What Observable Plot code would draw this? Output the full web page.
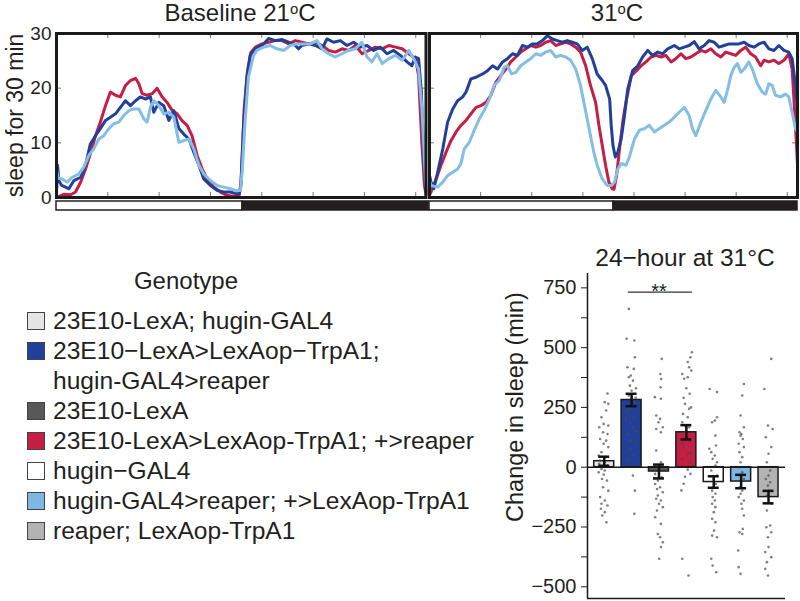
<!DOCTYPE html>
<html><head><meta charset="utf-8">
<script src="https://cdn.jsdelivr.net/npm/d3@7"></script>
<script src="https://cdn.jsdelivr.net/npm/@observablehq/plot@0.6"></script>
<style>
body{margin:0;background:#fff;font-family:"Liberation Sans",Arial,sans-serif;color:#231f20;}
#page{position:relative;width:800px;height:601px;overflow:hidden;background:#fff;}
.abs{position:absolute;}
.title{font-size:24px;line-height:24px;text-align:center;white-space:nowrap;}
.sup{font-size:0.62em;position:relative;top:-0.45em;}
#legend{position:absolute;left:0;top:306px;width:490px;}
.item{position:relative;padding-left:53px;width:437px;font-size:24.6px;line-height:30px;white-space:pre-line;}
.sw{position:absolute;left:27px;top:6px;width:16px;height:16px;border:1px solid #444;}
svg{overflow:visible;}
</style></head>
<body><div id="page">
<div id="p1" class="abs" style="left:0;top:0;width:430px;height:200px"></div>
<div id="p2" class="abs" style="left:425px;top:0;width:375px;height:200px"></div>
<div id="ld1" class="abs" style="left:0;top:199px;width:430px;height:13px"></div>
<div id="ld2" class="abs" style="left:425px;top:199px;width:375px;height:13px"></div>
<div id="bars" class="abs" style="left:490px;top:240px;width:310px;height:361px"></div>
<div class="abs title" style="left:90px;width:300px;top:1px">Baseline 21<span class="sup">o</span>C</div>
<div class="abs title" style="left:467px;width:300px;top:1px">31<span class="sup">o</span>C</div>
<div class="abs title" style="left:535px;width:300px;top:246px;font-size:24.5px">24−hour at 31°C</div>
<div class="abs title" style="left:86px;width:200px;top:269px">Genotype</div>
<div id="legend"></div>
</div>
<script>
// ---------- data ----------
const minuteTicks = [200, 400, 600, 800, 1000, 1200, 1400];
const sleepTicks = [0, 10, 20, 30];
const innerSleepTicks = [10, 20];
const ldPhases = [{start: 0, end: 720, phase: "light"}, {start: 720, end: 1440, phase: "dark"}];

const lineColors = {blue: "#22409a", red: "#c41e45", light: "#84bde6"};

// Baseline 21°C: [minute, sleep per 30 min]
const baseRed = [[0,0],[15,0.3],[30,0.6],[55,0.5],[74,1],[94,2.8],[113,5.2],[132,8],[152,11.3],[171,13.8],[191,16.8],[210,19.3],[230,18.7],[249,18.4],[269,20.5],[288,21.4],[308,21.8],[321,20.8],[334,19],[353,18.7],[373,19],[392,20],[412,18.4],[431,17.4],[451,15.9],[470,15.3],[490,14],[509,13.2],[528,11.3],[548,7.7],[568,5.2],[587,3.4],[613,1.9],[639,1],[665,0.4],[691,0.2],[712,0.4],[720,3],[731,16],[744,23],[757,26.5],[775,27.5],[801,28.1],[827,28.4],[852,28.7],[879,28.7],[905,28.1],[931,28.7],[956,28.4],[983,28.1],[1009,28.4],[1035,27.8],[1061,26.9],[1087,26.6],[1113,27.2],[1139,26.9],[1165,27.8],[1191,26.3],[1217,26.9],[1243,27.5],[1269,27.2],[1295,27.8],[1321,27.5],[1347,27.2],[1373,26.3],[1399,25.4],[1411,22.3],[1424,10],[1434,2.2],[1440,0.5]];
const baseBlue = [[0,0.5],[4,5.9],[10,3],[20,2.2],[35,1.9],[48,1.6],[68,3.1],[94,3.7],[113,5.9],[132,9.8],[152,11.3],[171,12.6],[191,14.1],[210,14.7],[230,15.3],[249,16.5],[269,17.7],[288,16.8],[308,17.7],[327,18.4],[347,18],[366,18.4],[379,15.6],[399,17.4],[418,16.8],[438,14.1],[457,15.9],[477,12.6],[496,11.6],[516,10.7],[535,8.3],[555,5.9],[574,3.4],[600,2.2],[626,1.3],[652,1],[678,1],[697,0.7],[712,0.7],[718,2],[729,13],[742,22],[755,26],[775,27.2],[801,27.8],[827,29.1],[852,28.7],[879,28.9],[905,28.4],[931,27.8],[943,27.2],[956,27.8],[983,28.1],[1009,27.8],[1035,27.2],[1054,29],[1080,28.4],[1106,28.7],[1132,27.8],[1158,28.4],[1184,27.5],[1210,27.8],[1236,26.9],[1262,27.5],[1288,26.3],[1314,26.9],[1340,26],[1366,24.8],[1385,24.1],[1398,25.7],[1411,25.4],[1422,19.3],[1431,7],[1440,1]];
const baseLight = [[0,5],[8,3.5],[22,3.4],[42,2.8],[61,3.7],[87,4.3],[106,5.5],[126,7.7],[145,8.9],[165,10.7],[184,11.3],[204,12.6],[223,13.5],[243,13.8],[262,15],[282,15.9],[301,16.2],[321,16.2],[340,14.4],[353,13.8],[366,16.5],[379,17.7],[399,16.8],[418,15.3],[438,15.6],[457,14.7],[477,10.1],[496,10.4],[516,10.7],[535,8.9],[555,5.9],[574,4.3],[600,3.1],[626,2.2],[652,1.9],[678,1.6],[697,1.3],[717,1.3],[724,5],[735,14],[748,22],[768,26],[781,26.9],[807,27.5],[833,27.8],[859,27.2],[885,26.9],[911,27.8],[937,28.1],[963,28.1],[989,28.1],[1015,28.7],[1035,27.2],[1060,26.3],[1086,25.7],[1112,26.3],[1138,26.9],[1164,27.2],[1190,28.4],[1210,25.7],[1229,24.8],[1249,26.3],[1269,24.5],[1295,25.4],[1321,26],[1347,25.1],[1373,26.9],[1392,25.4],[1411,23.5],[1424,16.2],[1437,4],[1440,2]];

// 31°C
const hotRed = [[0,0.5],[6,1],[26,3.4],[45,5.9],[65,8.3],[84,10.4],[104,12],[123,13.2],[143,14.1],[162,15.3],[182,16.5],[201,16.8],[221,17.4],[240,18.7],[260,21.1],[279,22.3],[299,23.5],[318,24.8],[338,25.7],[357,26.6],[377,27.2],[396,27.8],[416,27.5],[435,27.8],[455,28.4],[474,28.7],[494,27.8],[513,28.1],[533,28.4],[552,28.1],[572,27.5],[591,26.6],[611,24.1],[630,20.5],[650,17.4],[663,13.2],[676,9.5],[689,5.9],[702,2.8],[715,1.6],[722,1.5],[732,4],[745,9.5],[758,14.4],[771,18],[790,22.3],[810,23.2],[828,24.1],[847,24.8],[867,25.7],[887,26],[906,25.7],[925,26],[945,24.8],[964,25.4],[984,26.3],[1003,25.4],[1023,25.7],[1042,26.3],[1062,26.9],[1081,26.6],[1101,27.2],[1120,26.3],[1140,25.7],[1159,26.6],[1179,26.3],[1198,26],[1218,26.9],[1237,27.5],[1257,26.3],[1276,25.7],[1296,24.1],[1309,25.1],[1328,24.8],[1348,25.1],[1367,24.5],[1387,25.1],[1406,26.3],[1419,23.5],[1432,13.2],[1440,6]];
const hotBlue = [[0,4],[6,2.8],[17,1.6],[32,4.6],[52,8.9],[71,13.8],[91,16.2],[110,17.7],[130,18.4],[143,19.3],[162,21.7],[182,22],[208,22.6],[227,23.2],[247,24.1],[266,23.5],[286,24.8],[305,25.4],[325,26.3],[344,26],[364,27.8],[383,27.5],[403,28.1],[422,28.1],[442,28.7],[461,29.6],[481,29],[500,28.7],[520,28.4],[539,28.7],[559,28.4],[578,28.1],[598,26.9],[617,27.5],[637,25.4],[656,22.6],[676,21.4],[689,20.5],[705,18],[711,13.2],[718,9.5],[727,7.4],[737,8.3],[750,10.7],[763,15],[776,19.9],[795,23.2],[815,24.1],[834,25.7],[854,26.9],[873,26],[893,26.6],[912,26.3],[932,27.2],[958,27.8],[977,27.2],[997,27.5],[1016,27.8],[1036,28.5],[1055,27.2],[1075,27.8],[1094,28.7],[1114,28.4],[1133,27.5],[1153,27.8],[1172,28.1],[1192,28.1],[1211,28.1],[1231,28.4],[1250,27.8],[1270,27.5],[1289,28.1],[1309,28.4],[1328,27.2],[1348,26.9],[1367,27.8],[1387,26.9],[1406,26.6],[1419,25.4],[1432,20.5],[1440,16]];
const hotLight = [[0,3],[6,2.2],[32,1.9],[52,2.8],[71,4],[91,4.6],[110,5.2],[123,6.2],[136,8.9],[156,10.1],[175,12.3],[195,14.4],[214,15.9],[234,18],[253,20.5],[273,21.4],[292,23.8],[305,24.1],[321,22.6],[338,22.9],[357,24.1],[377,24.8],[396,25.4],[416,26.3],[435,26],[455,26.6],[474,26.9],[494,25.7],[513,26],[533,25.7],[552,25.1],[572,23.5],[591,20.5],[604,17.4],[617,14.4],[630,11.3],[643,8.3],[656,5.9],[676,3.4],[695,2.2],[711,2.2],[724,2.8],[737,5.2],[750,6.2],[769,5.9],[782,7.4],[802,10.7],[821,12.3],[841,12.6],[860,13.2],[880,12],[899,12.6],[919,13.2],[938,13.8],[958,14.7],[977,15.6],[997,16.5],[1016,15],[1029,12.6],[1042,11.3],[1062,13.8],[1081,15.9],[1101,18],[1120,19.6],[1140,18.4],[1153,17.4],[1166,19.6],[1179,22.3],[1192,23.8],[1205,24.5],[1218,22.9],[1231,23.5],[1250,24.8],[1263,23.5],[1283,20.8],[1302,19.3],[1315,18.9],[1328,20.8],[1341,20.5],[1354,18.7],[1374,18.4],[1393,18.9],[1406,18.4],[1419,15.6],[1432,12.6],[1440,12]];

// Bar chart
const genotypes = ["23E10-LexA; hugin-GAL4", "23E10−LexA>LexAop−TrpA1;\nhugin-GAL4>reaper", "23E10-LexA", "23E10-LexA>LexAop-TrpA1; +>reaper", "hugin−GAL4", "hugin-GAL4>reaper; +>LexAop-TrpA1", "reaper; LexAop-TrpA1"];
const genoColors = ["#e5e5e6", "#22409a", "#58585a", "#c41e45", "#ffffff", "#7cb8e2", "#b3b3b4"];
const meanChange = [25, 281, -18, 146, -62, -60, -125];
const semChange = [19, 26, 29, 30, 24, 28, 26];
const changeTicks = [-500, -375, -250, -125, 0, 125, 250, 375, 500, 625, 750];
const sigPair = {from: 0.88, to: 3.22, y: 732, label: "**", at: 2};
// individual flies: [change in sleep (min), horizontal jitter within group]
const flies1 = [[308,0.12],[272,0.02],[265,0.15],[237,0.07],[209,-0.1],[181,-0.02],[174,0.15],[167,-0.18],[146,-0.04],[139,0.12],[118,-0.15],[111,0.07],[98,-0.02],[84,0.15],[63,-0.1],[49,-0.2],[42,0.05],[28,-0.15],[21,0.02],[14,-0.18],[7,0.12],[-7,-0.1],[-14,0.02],[-21,-0.2],[-31,-0.02],[-49,-0.08],[-56,0.1],[-84,-0.04],[-98,0.15],[-125,-0.15],[-139,0.02],[-153,-0.1],[-160,0.12],[-174,-0.12],[-188,0.02],[-202,-0.07],[-230,0.08]];
const flies2 = [[662,-0.1],[537,-0.18],[530,0.1],[460,0.12],[418,-0.15],[411,0.08],[383,-0.03],[376,-0.1],[362,0.05],[341,-0.06],[330,0.16],[320,0],[300,-0.1],[290,0.15],[272,0.12],[260,0.03],[251,-0.03],[240,-0.12],[230,-0.18],[209,0.1],[200,-0.2],[188,-0.06],[167,0.05],[150,0.18],[139,-0.15],[111,-0.03],[105,0.12],[77,-0.06],[49,0.05],[28,-0.1],[-35,0.05],[-98,0.12],[-195,0.1]];
const flies3 = [[453,0.1],[390,0.05],[369,0.08],[334,0.06],[293,-0.15],[286,0.07],[216,-0.1],[202,0.04],[188,-0.02],[167,0.14],[160,-0.1],[146,0.07],[70,-0.1],[21,0.07],[0,-0.07],[-14,0.04],[-28,-0.14],[-42,0.1],[-56,-0.04],[-70,-0.14],[-84,0.04],[-91,-0.07],[-105,0.14],[-118,-0.04],[-132,-0.1],[-139,0.07],[-153,0],[-167,0.14],[-181,-0.07],[-209,-0.14],[-237,0.07],[-279,-0.04],[-293,0.04],[-314,0.14],[-334,0.07],[-383,0.01]];
const flies4 = [[481,0.2],[460,0.15],[440,0.05],[418,0.1],[404,0.18],[390,-0.15],[376,0.05],[370,-0.08],[330,0],[307,0.12],[290,-0.1],[265,-0.05],[250,0.17],[244,0.1],[223,-0.12],[209,0.05],[188,-0.15],[170,-0.02],[167,0.1],[146,-0.05],[130,0.02],[112,0.15],[100,-0.16],[84,-0.1],[60,0.17],[56,0.05],[35,-0.15],[21,0.12],[-10,0.05],[-28,0.15],[-40,-0.05],[-69,-0.1],[-97,-0.18],[-383,-0.15],[-453,0.08]];
const flies5 = [[327,-0.15],[314,0.12],[209,0.12],[195,0.04],[188,-0.06],[132,0.06],[91,0.08],[77,-0.16],[63,-0.09],[49,0.04],[35,-0.04],[21,0.12],[7,0.06],[-14,-0.09],[-35,0.12],[-49,0],[-70,0.08],[-98,-0.06],[-111,0.06],[-125,-0.04],[-139,0.04],[-153,-0.06],[-167,0.06],[-188,0],[-216,-0.06],[-230,0.06],[-265,0.01],[-286,-0.06],[-293,0.12],[-383,-0.09],[-411,-0.04],[-439,0.09]];
const flies6 = [[348,0.1],[300,0.04],[216,-0.02],[167,0.1],[146,-0.06],[139,0.01],[132,-0.02],[118,0.06],[98,-0.09],[84,0.1],[63,-0.06],[42,0.04],[21,-0.02],[0,-0.09],[-21,0.04],[-49,0.1],[-84,-0.06],[-98,0.04],[-111,-0.02],[-125,-0.09],[-139,0.1],[-153,0.01],[-174,0.04],[-202,0.1],[-258,0.06],[-272,-0.06],[-279,0.04],[-348,-0.11],[-418,-0.09],[-446,-0.02]];
const flies7 = [[453,0.1],[327,-0.15],[174,-0.02],[160,0.15],[125,-0.1],[84,0.1],[56,0],[21,-0.06],[-14,0.06],[-35,0],[-49,-0.1],[-63,0.06],[-77,-0.02],[-98,0.02],[-118,-0.06],[-153,0.12],[-181,-0.06],[-244,0.06],[-251,-0.08],[-272,0.1],[-293,-0.02],[-334,0],[-355,-0.12],[-376,0.1],[-397,-0.06],[-425,-0.12],[-453,-0.02]];

// ---------- drawing ----------
const font = {fontFamily: '"Liberation Sans", Arial, sans-serif', color: "#231f20", background: "transparent", overflow: "visible", maxWidth: "none"};
const PANEL_H = 200, MT = 33, MB = 3;

function sleepPanel(lines, {width, marginLeft, marginRight, yAxis}) {
  const innerW = width - marginLeft - marginRight;
  const innerH = PANEL_H - MT - MB;
  const marks = [
    Plot.tickX(minuteTicks, {x: d => d, insetBottom: innerH - 5, stroke: "#777", strokeWidth: 1}),
    Plot.tickX(minuteTicks, {x: d => d, insetTop: innerH - 5, stroke: "#777", strokeWidth: 1}),
    Plot.tickY(innerSleepTicks, {y: d => d, insetRight: innerW - 5, stroke: "#777", strokeWidth: 1}),
    Plot.tickY(innerSleepTicks, {y: d => d, insetLeft: innerW - 5, stroke: "#777", strokeWidth: 1}),
    ...lines.map(s => Plot.line(s.data, {x: d => d[0], y: d => d[1], stroke: s.color, strokeWidth: 3, strokeLinejoin: "round", strokeLinecap: "round"})),
    Plot.frame({stroke: "#1a1a1a", strokeWidth: 3})
  ];
  if (yAxis) {
    marks.push(Plot.axisY({ticks: sleepTicks, tickSize: 0, tickPadding: 5, fontSize: 19}));
    marks.push(Plot.text(["sleep for 30 min"], {frameAnchor: "left", textAnchor: "middle", dx: -41, rotate: -90, fontSize: 23, fill: "#231f20"}));
  }
  return Plot.plot({
    width, height: PANEL_H, marginLeft, marginRight, marginTop: MT, marginBottom: MB,
    x: {domain: [0, 1440], axis: null},
    y: {domain: [0, 30], axis: null},
    style: font, marks
  });
}

function ldBar({width, marginLeft, marginRight}) {
  return Plot.plot({
    width, height: 13, marginLeft, marginRight, marginTop: 2, marginBottom: 2,
    x: {domain: [0, 1440], axis: null}, y: {axis: null},
    style: font,
    marks: [Plot.rect(ldPhases, {x1: "start", x2: "end", fill: d => d.phase === "light" ? "#ffffff" : "#231f20", stroke: "#231f20", strokeWidth: 1.5})]
  });
}

const baseLines = [{data: baseRed, color: lineColors.red}, {data: baseBlue, color: lineColors.blue}, {data: baseLight, color: lineColors.light}];
const hotLines = [{data: hotRed, color: lineColors.red}, {data: hotBlue, color: lineColors.blue}, {data: hotLight, color: lineColors.light}];

document.getElementById("p1").append(sleepPanel(baseLines, {width: 430, marginLeft: 56, marginRight: 4.5, yAxis: true}));
document.getElementById("p2").append(sleepPanel(hotLines, {width: 375, marginLeft: 4, marginRight: 3, yAxis: false}));
document.getElementById("ld1").append(ldBar({width: 430, marginLeft: 56, marginRight: 2}));
document.getElementById("ld2").append(ldBar({width: 375, marginLeft: 4, marginRight: 3}));

// bar chart
const bars = genotypes.map((g, i) => ({i, g, mean: meanChange[i], sem: semChange[i], color: genoColors[i]}));
const flies = [flies1, flies2, flies3, flies4, flies5, flies6, flies7].flatMap((arr, i) => arr.map(([v, j]) => ({x: i + j, v})));
const xDomain = [-0.61, 6.62], yDomain = [-549, 810];
const halfBar = 0.365, halfCap = 0.2;
const fmt = d3.format("d");

document.getElementById("bars").append(Plot.plot({
  width: 310, height: 361, marginLeft: 97, marginRight: 15, marginTop: 33, marginBottom: 3,
  x: {domain: xDomain, axis: null},
  y: {domain: yDomain, axis: null},
  style: font,
  marks: [
    Plot.rect(bars, {x1: d => d.i - halfBar, x2: d => d.i + halfBar, y1: 0, y2: "mean", fill: "color", stroke: "#1a1a1a", strokeWidth: 1.5}),
    Plot.dot(flies, {x: "x", y: "v", r: 1.3, fill: "#4a4a4a", fillOpacity: 0.7, stroke: "none"}),
    Plot.ruleY([0], {stroke: "#1a1a1a", strokeWidth: 1.5}),
    Plot.ruleX(bars, {x: "i", y1: d => d.mean - d.sem, y2: d => d.mean + d.sem, stroke: "#111", strokeWidth: 2.5}),
    Plot.ruleY(bars, {y: d => d.mean + d.sem, x1: d => d.i - halfCap, x2: d => d.i + halfCap, stroke: "#111", strokeWidth: 2.5}),
    Plot.ruleY(bars, {y: d => d.mean - d.sem, x1: d => d.i - halfCap, x2: d => d.i + halfCap, stroke: "#111", strokeWidth: 2.5}),
    Plot.ruleY([sigPair], {y: "y", x1: "from", x2: "to", stroke: "#333", strokeWidth: 1.2}),
    Plot.text([sigPair], {x: "at", y: "y", text: "label", dy: -1, fontSize: 20, fill: "#231f20"}),
    Plot.axisY({ticks: changeTicks, tickFormat: d => d % 250 === 0 ? fmt(d) : "", tickSize: 6, tickPadding: 5, fontSize: 20, stroke: "#231f20"}),
    Plot.ruleX([xDomain[0]], {stroke: "#1a1a1a", strokeWidth: 1.5}),
    Plot.ruleY([yDomain[0]], {stroke: "#1a1a1a", strokeWidth: 1.5}),
    Plot.text(["Change in sleep (min)"], {frameAnchor: "left", textAnchor: "middle", dx: -72, dy: -29, rotate: -90, fontSize: 23.5, fill: "#231f20"})
  ]
}));

// legend
const legend = document.getElementById("legend");
genotypes.forEach((g, i) => {
  const item = document.createElement("div");
  item.className = "item";
  const sw = document.createElement("span");
  sw.className = "sw";
  sw.style.background = genoColors[i];
  item.appendChild(sw);
  item.appendChild(document.createTextNode(g));
  legend.appendChild(item);
});
</script>
</body></html>
